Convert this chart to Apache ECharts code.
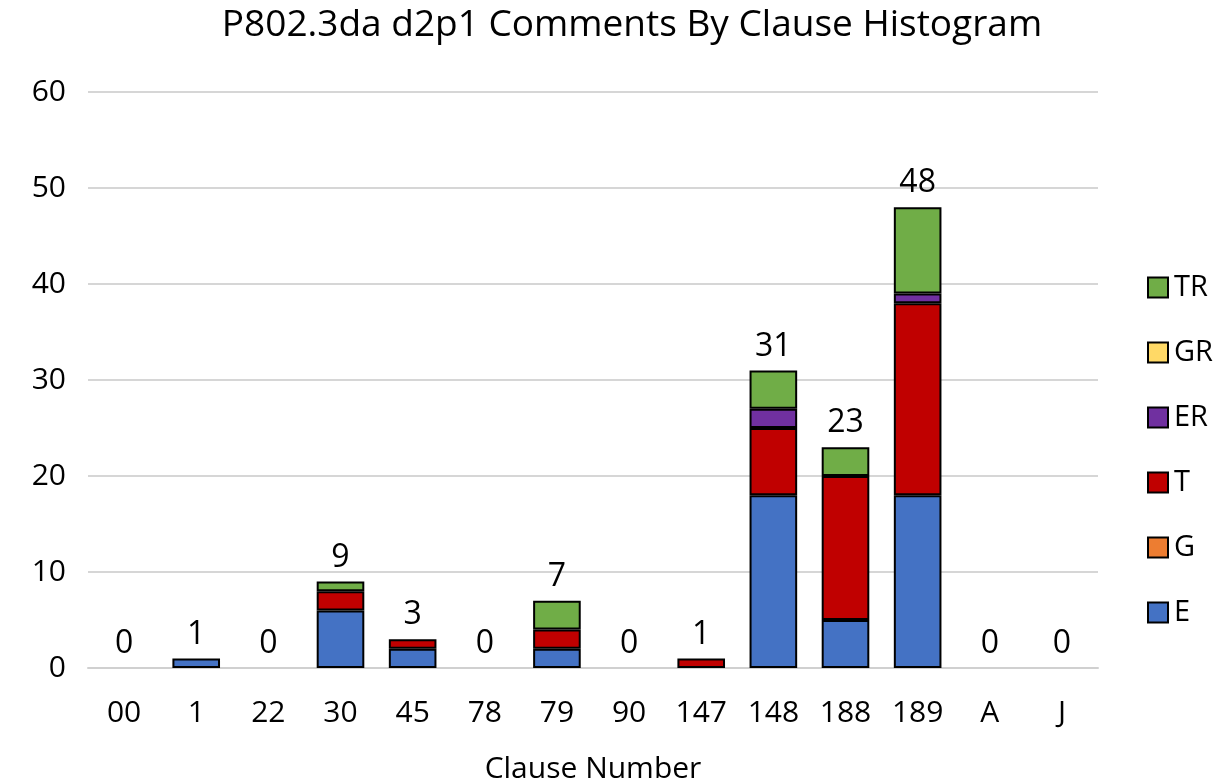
<!DOCTYPE html>
<html>
<head>
<meta charset="utf-8">
<script src="https://cdn.jsdelivr.net/npm/echarts@6/dist/echarts.min.js"></script>
<style>
  html, body { margin: 0; padding: 0; background: #fff; }
  #chart { width: 1219px; height: 783px; }
</style>
</head>
<body>
<div id="chart"></div>
<script>
// 条款分类
var clauses = ['00', '1', '22', '30', '45', '78', '79', '90', '147', '148', '188', '189', 'A', 'J'];
var valE  = [0, 1, 0, 6, 2, 0, 2, 0, 0, 18, 5, 18, 0, 0];
var valG  = [0, 0, 0, 0, 0, 0, 0, 0, 0, 0, 0, 0, 0, 0];
var valT  = [0, 0, 0, 2, 1, 0, 2, 0, 1, 7, 15, 20, 0, 0];
var valER = [0, 0, 0, 0, 0, 0, 0, 0, 0, 2, 0, 1, 0, 0];
var valGR = [0, 0, 0, 0, 0, 0, 0, 0, 0, 0, 0, 0, 0, 0];
var valTR = [0, 0, 0, 1, 0, 0, 3, 0, 0, 4, 3, 9, 0, 0];
var yTicks = [0, 10, 20, 30, 40, 50, 60];

var font = '"Open Sans", "Liberation Sans", sans-serif';
var totals = clauses.map(function (c, i) {
    return valE[i] + valG[i] + valT[i] + valER[i] + valGR[i] + valTR[i];
});

// 0 的段不画(否则会出现黑色边框线)
function bar(name, data, color) {
    return {
        name: name,
        type: 'bar',
        stack: 'all',
        barWidth: '66%',
        data: data.map(function (v) { return v === 0 ? '-' : v; }),
        itemStyle: { color: color, borderColor: '#000', borderWidth: 2 }
    };
}

var myChart = echarts.init(document.getElementById('chart'));
var option = {
    animation: false,
    title: {
        text: 'P802.3da d2p1 Comments By Clause Histogram',
        left: 627,
        textAlign: 'center',
        top: 2,
        textStyle: { fontFamily: font, fontSize: 37, fontWeight: 'normal', color: '#000' }
    },
    legend: {
        orient: 'vertical',
        left: 1142,
        top: 268,
        itemGap: 36,
        itemWidth: 20,
        itemHeight: 20,
        icon: 'rect',
        data: ['TR', 'GR', 'ER', 'T', 'G', 'E'],
        textStyle: { fontFamily: font, fontSize: 29, color: '#000', padding: [0, 0, 0, 1] },
        itemStyle: { borderColor: '#000', borderWidth: 2 }
    },
    grid: { left: 88, right: 121, top: 92, bottom: 115, outerBoundsMode: 'none' },
    xAxis: {
        type: 'category',
        data: clauses,
        name: 'Clause Number',
        nameLocation: 'middle',
        nameGap: 86,
        nameTextStyle: { fontFamily: font, fontSize: 30, color: '#000' },
        axisLine: { lineStyle: { color: '#d0d0d0', width: 2 } },
        axisTick: { show: false },
        axisLabel: { fontFamily: font, fontSize: 30, color: '#000', margin: 30 }
    },
    yAxis: {
        type: 'value',
        min: yTicks[0],
        max: yTicks[yTicks.length - 1],
        interval: 10,
        axisLine: { show: false },
        axisTick: { show: false },
        axisLabel: { fontFamily: font, fontSize: 30, color: '#000', margin: 22 },
        splitLine: { lineStyle: { color: '#d6d6d6', width: 2 } }
    },
    series: [
        bar('E', valE, '#4472c4'),
        bar('G', valG, '#ed7d31'),
        bar('T', valT, '#c00000'),
        bar('ER', valER, '#7030a0'),
        bar('GR', valGR, '#ffd966'),
        bar('TR', valTR, '#70ad47'),
        {
            name: 'total',
            type: 'bar',
            stack: 'all',
            barWidth: '66%',
            data: totals.map(function () { return 0; }),
            itemStyle: { color: 'transparent', borderWidth: 0 },
            label: {
                show: true,
                position: 'top',
                distance: 8,
                fontFamily: font,
                fontSize: 32,
                color: '#000',
                formatter: function (p) { return totals[p.dataIndex]; }
            },
            tooltip: { show: false }
        }
    ]
};
myChart.setOption(option);
</script>
</body>
</html>
